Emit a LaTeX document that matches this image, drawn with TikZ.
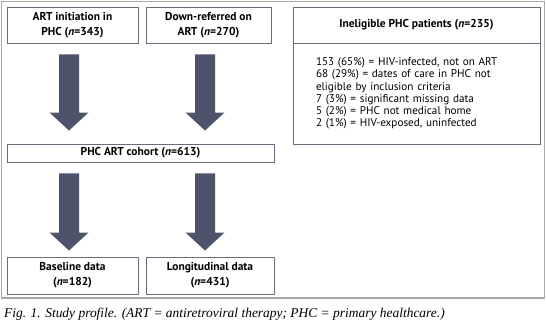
\documentclass[tikz,border=0pt]{standalone}
\usepackage{fontspec}
\setmainfont{Liberation Serif}
\newfontfamily\boxfont{PT Sans}
\usepackage{tikz}
\usetikzlibrary{calc}

\definecolor{arrowfill}{RGB}{78,83,108}
\definecolor{boxline}{RGB}{105,108,125}
\definecolor{framegrey}{RGB}{168,168,168}

\begin{document}
\begin{tikzpicture}[x=1bp,y=-1bp]
            \tikzstyle{flow box}=[draw=boxline,line width=0.9bp,inner sep=0,align=center,font=\boxfont\bfseries\fontsize{11.5}{15}\selectfont];
            \tikzstyle{list box}=[draw=boxline,line width=0.9bp,inner xsep=23bp,inner ysep=0,align=left,font=\boxfont\fontsize{11.2}{12.3}\selectfont];
            \tikzstyle{block arrow}=[fill=arrowfill];
            \useasboundingbox (0,0) rectangle (546,323);
            \draw[framegrey,line width=1.5bp] (1.5,1.5) rectangle (544.5,298);
            % left column of boxes
            \node[flow box,minimum width=131bp,minimum height=36bp] (init) at (72.5,25) {ART initiation in\\PHC (\textit{n}=343)};
            \node[flow box,minimum width=125bp,minimum height=36bp] (down) at (208.5,25) {Down-referred on\\ART (\textit{n}=270)};
            \node[flow box,minimum width=267bp,minimum height=18bp] (cohort) at (140.5,153) {PHC ART cohort (\textit{n}=613)};
            \node[flow box,minimum width=131bp,minimum height=37bp] (base) at (72.5,275.5) {Baseline data\\(\textit{n}=182)};
            \node[flow box,minimum width=128bp,minimum height=37bp] (long) at (210,275.5) {Longitudinal data\\(\textit{n}=431)};
            % ineligible patients
            \node[flow box,minimum width=247bp,minimum height=36bp] (inel) at (416.5,25) {Ineligible PHC patients (\textit{n}=235)};
            \node[list box,text width=201bp,minimum height=101bp] (reasons) at (416.5,93.5) {153 (65\%) = HIV-infected, not on ART\\68 (29\%) = dates of care in PHC not\\eligible by inclusion criteria\\7 (3\%) = significant missing data\\5 (2\%) = PHC not medical home\\2 (1\%) = HIV-exposed, uninfected};
            % block arrows
            \foreach \s/\e/\cx/\g in {init/cohort/69/13, down/cohort/205/13, cohort/base/69/6, cohort/long/205/6}
              \fill[block arrow] let \p1=(\cx,0 |- \s.south), \p2=(\cx,0 |- \e.north) in
                (\x1-10bp,\y1-11bp) -- (\x1-10bp,\y2+\g bp+18bp) -- (\x1-19.5bp,\y2+\g bp+18bp)
                -- (\x1,\y2+\g bp) -- (\x1+19.5bp,\y2+\g bp+18bp) -- (\x1+10bp,\y2+\g bp+18bp)
                -- (\x1+10bp,\y1-11bp) -- cycle;
            \node[anchor=base west,inner sep=0,font=\itshape\fontsize{13.5}{15}\selectfont] (caption) at (4,317) {Fig. 1. Study profile. (ART = antiretroviral therapy; PHC = primary healthcare.)};
            \end{tikzpicture}
\end{document}
